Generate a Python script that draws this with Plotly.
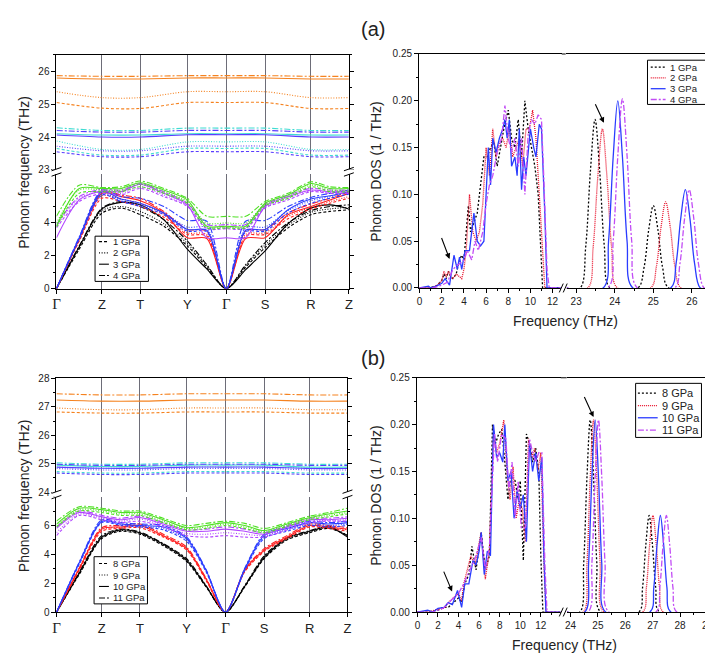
import plotly.graph_objects as go

W, H = 713, 653
def px(x): return x / W
def py(y): return 1 - y / H

FONT = "Liberation Sans, Arial, sans-serif"
SERIF = "Liberation Serif, Times New Roman, serif"

# ---------------- k-path (dispersion) ----------------
GAMMA = '<span style="font-family:Liberation Serif, serif; font-size:15px">Γ</span>'
kpath_labels = [GAMMA, "Z", "T", "Y", GAMMA, "S", "R", "Z"]
kpath_pos = [0, 0.46, 0.847, 1.323, 1.717, 2.11, 2.573, 2.957]
k_grid = [0, 0.23, 0.46, 0.653, 0.847, 1.085, 1.323, 1.52, 1.717, 1.913, 2.11, 2.342, 2.573, 2.765, 2.957]

press_a = ["1 GPa", "2 GPa", "3 GPa", "4 GPa"]
press_b = ["8 GPa", "9 GPa", "10 GPa", "11 GPa"]

# ---- panel (a) low-frequency branches (values on k_grid), one list per pressure
a_black = [
    [0, 2.4, 4.6, 4.9, 4.5, 3.8, 2.6, 1.3, 0, 1.3, 2.5, 3.7, 4.5, 4.7, 4.8],
    [0, 2.5, 4.75, 5.0, 4.7, 3.95, 2.75, 1.4, 0, 1.4, 2.65, 3.85, 4.65, 4.85, 4.95],
    [0, 2.55, 4.85, 5.25, 5.1, 4.2, 2.4, 1.2, 0, 1.15, 2.3, 3.95, 4.9, 5.1, 4.85],
    [0, 2.6, 4.9, 5.3, 5.0, 4.2, 2.9, 1.45, 0, 1.45, 2.8, 4.0, 4.75, 5.0, 5.1],
]
a_red = [
    [0, 2.9, 5.5, 5.3, 5.0, 4.35, 3.3, 3.2, 0, 3.2, 3.3, 4.25, 4.85, 5.2, 5.5],
    [0, 2.95, 5.65, 5.45, 5.2, 4.5, 3.4, 3.3, 0, 3.3, 3.4, 4.4, 4.95, 5.3, 5.6],
    [0, 3.0, 5.8, 5.6, 5.35, 4.6, 3.1, 3.05, 0, 3.05, 3.1, 4.5, 5.0, 5.4, 5.8],
    [0, 3.05, 5.9, 5.7, 5.5, 4.7, 3.6, 3.5, 0, 3.5, 3.6, 4.6, 5.15, 5.5, 5.9],
]
a_blue = [
    [0, 3.0, 5.7, 5.3, 5.0, 4.5, 3.5, 3.45, 0, 3.45, 3.5, 4.6, 5.2, 5.5, 5.75],
    [0, 3.05, 5.8, 5.35, 5.1, 4.6, 3.75, 3.7, 0, 3.7, 3.75, 4.75, 5.35, 5.6, 5.85],
    [0, 3.1, 5.9, 5.45, 5.2, 4.6, 3.6, 3.55, 0, 3.55, 3.6, 4.8, 5.45, 5.65, 5.9],
    [0, 3.15, 6.0, 5.6, 5.5, 5.0, 4.15, 4.1, 0, 4.1, 4.15, 5.0, 5.55, 5.8, 6.0],
]
a_magenta = [
    [3.7, 5.3, 5.8, 5.7, 6.1, 5.6, 5.0, 3.65, 3.65, 3.65, 4.9, 5.4, 5.9, 5.8, 5.8],
    [3.8, 5.5, 5.9, 5.8, 6.2, 5.7, 5.05, 3.75, 3.75, 3.75, 4.95, 5.5, 5.95, 5.85, 5.85],
    [3.1, 5.4, 5.95, 5.9, 6.35, 5.8, 5.1, 3.1, 3.1, 3.1, 5.0, 5.6, 6.0, 5.9, 5.9],
    [3.9, 5.6, 6.05, 6.0, 6.4, 5.9, 5.2, 3.9, 3.9, 3.9, 5.1, 5.7, 6.1, 6.0, 6.0],
]
a_green = [
    [3.75, 5.8, 5.9, 5.9, 6.2, 5.8, 5.2, 3.7, 3.7, 3.7, 5.05, 5.5, 6.2, 5.9, 5.9],
    [4.0, 6.0, 6.0, 6.0, 6.35, 5.9, 5.3, 4.0, 4.0, 4.0, 5.15, 5.6, 6.3, 6.0, 6.0],
    [3.8, 6.1, 6.1, 6.1, 6.45, 6.0, 5.4, 3.8, 3.8, 3.8, 5.2, 5.7, 6.4, 6.1, 6.1],
    [4.4, 6.3, 6.15, 6.2, 6.55, 6.1, 5.5, 4.4, 4.4, 4.4, 5.3, 5.8, 6.5, 6.2, 6.15],
]
# ---- panel (a) high-frequency branches (values at the 8 high-symmetry points)
a_cyan = [
    [23.65, 23.45, 23.45, 23.65, 23.65, 23.65, 23.45, 23.45],
    [23.88, 23.62, 23.62, 23.85, 23.85, 23.85, 23.62, 23.62],
    [24.1, 24.06, 24.06, 24.1, 24.1, 24.1, 24.06, 24.06],
    [24.28, 24.2, 24.2, 24.27, 24.27, 24.27, 24.2, 24.2],
]
a_violet = [
    [23.55, 23.4, 23.4, 23.55, 23.55, 23.55, 23.4, 23.4],
    [23.72, 23.58, 23.58, 23.72, 23.72, 23.72, 23.58, 23.58],
    [24.06, 24.0, 24.0, 24.07, 24.07, 24.07, 24.0, 24.0],
    [24.2, 24.15, 24.15, 24.2, 24.2, 24.2, 24.15, 24.15],
]
a_orange = [
    [25.05, 24.88, 24.87, 25.05, 25.05, 25.05, 24.87, 24.87],
    [25.38, 25.2, 25.2, 25.38, 25.38, 25.38, 25.2, 25.2],
    [25.8, 25.77, 25.77, 25.8, 25.8, 25.8, 25.77, 25.77],
    [25.87, 25.85, 25.85, 25.87, 25.87, 25.87, 25.85, 25.85],
]

# ---- panel (b) low-frequency branches
b_black = [
    [0, 2.6, 5.1, 5.6, 5.4, 4.6, 3.5, 1.75, 0, 1.75, 3.7, 5.0, 5.5, 5.8, 5.3],
    [0, 2.65, 5.15, 5.65, 5.45, 4.65, 3.55, 1.8, 0, 1.8, 3.75, 5.05, 5.55, 5.85, 5.3],
    [0, 2.7, 5.2, 5.7, 5.5, 4.7, 3.6, 1.8, 0, 1.8, 3.8, 5.1, 5.6, 5.9, 5.2],
    [0, 2.75, 5.3, 5.75, 5.55, 4.75, 3.7, 1.85, 0, 1.85, 3.9, 5.15, 5.65, 5.95, 5.3],
]
b_red = [
    [0, 2.9, 5.6, 5.8, 5.85, 5.2, 4.3, 2.2, 0, 2.8, 4.2, 5.1, 5.9, 5.8, 5.6],
    [0, 2.95, 5.7, 5.85, 5.95, 5.25, 4.35, 2.25, 0, 2.85, 4.25, 5.15, 5.95, 5.85, 5.7],
    [0, 3.0, 5.75, 5.9, 6.0, 5.3, 4.4, 2.3, 0, 2.9, 4.3, 5.2, 6.0, 5.9, 5.75],
    [0, 3.05, 5.85, 6.0, 6.1, 5.4, 4.5, 2.35, 0, 2.95, 4.4, 5.3, 6.1, 6.0, 5.85],
]
b_blue = [
    [0, 3.3, 6.2, 6.0, 5.9, 5.7, 4.9, 2.8, 0, 2.9, 5.1, 5.6, 6.0, 5.9, 6.0],
    [0, 3.35, 6.25, 6.05, 5.95, 5.8, 5.0, 2.85, 0, 2.95, 5.2, 5.7, 6.1, 6.0, 6.1],
    [0, 3.4, 6.3, 6.1, 6.0, 5.9, 5.1, 2.9, 0, 3.0, 5.3, 5.8, 6.2, 6.1, 6.2],
    [0, 3.45, 6.4, 6.2, 6.1, 6.0, 5.2, 2.95, 0, 3.05, 5.4, 5.9, 6.3, 6.2, 6.3],
]
b_magenta = [
    [5.3, 6.7, 6.4, 6.2, 6.3, 5.9, 5.3, 5.2, 5.3, 5.2, 5.2, 5.7, 6.2, 6.3, 6.3],
    [5.5, 6.8, 6.5, 6.3, 6.45, 6.0, 5.45, 5.4, 5.5, 5.4, 5.3, 5.8, 6.3, 6.35, 6.4],
    [5.8, 6.9, 6.6, 6.4, 6.55, 6.1, 5.6, 5.6, 5.75, 5.6, 5.4, 5.9, 6.4, 6.4, 6.5],
    [5.9, 7.0, 6.7, 6.5, 6.65, 6.2, 5.7, 5.75, 5.9, 5.75, 5.5, 6.0, 6.5, 6.5, 6.6],
]
b_green = [
    [5.9, 7.0, 6.9, 6.7, 6.7, 6.2, 5.7, 5.8, 6.0, 5.8, 5.5, 5.95, 6.4, 6.6, 6.8],
    [6.0, 7.1, 7.0, 6.8, 6.8, 6.3, 5.8, 5.9, 6.1, 5.9, 5.6, 6.05, 6.5, 6.7, 6.9],
    [6.1, 7.2, 7.1, 6.9, 6.9, 6.4, 5.85, 6.0, 6.2, 6.0, 5.65, 6.1, 6.55, 6.8, 7.0],
    [6.3, 7.3, 7.2, 7.0, 7.0, 6.5, 6.0, 6.15, 6.3, 6.15, 5.8, 6.2, 6.65, 6.9, 7.2],
]
b_cyan = [
    [24.72, 24.67, 24.67, 24.72, 24.72, 24.72, 24.67, 24.67],
    [24.88, 24.84, 24.84, 24.88, 24.88, 24.88, 24.84, 24.84],
    [24.95, 24.9, 24.9, 24.95, 24.95, 24.95, 24.88, 24.88],
    [25.03, 24.98, 24.98, 25.03, 25.03, 25.03, 24.98, 24.98],
]
b_violet = [
    [24.67, 24.62, 24.62, 24.67, 24.67, 24.67, 24.62, 24.62],
    [24.83, 24.78, 24.78, 24.83, 24.83, 24.83, 24.78, 24.78],
    [24.88, 24.84, 24.84, 24.88, 24.88, 24.88, 24.83, 24.83],
    [24.98, 24.94, 24.94, 24.98, 24.98, 24.98, 24.94, 24.94],
]
b_orange = [
    [26.82, 26.78, 26.78, 26.82, 26.82, 26.82, 26.78, 26.78],
    [26.96, 26.9, 26.9, 26.96, 26.96, 26.96, 26.9, 26.9],
    [27.24, 27.2, 27.2, 27.24, 27.24, 27.24, 27.2, 27.2],
    [27.46, 27.42, 27.42, 27.46, 27.46, 27.46, 27.42, 27.42],
]

# ---------------- phonon DOS (frequency THz, DOS 1/THz) ----------------
dos_a_low = [
    [(0, 0), (0.8, 0), (1.5, 0.002), (2.0, 0.008), (2.2, 0.015), (2.4, 0.01), (2.6, 0.018), (2.8, 0.012),
     (3.0, 0.01), (3.3, 0.015), (3.6, 0.03), (3.8, 0.035), (4.0, 0.03), (4.2, 0.06), (4.4, 0.088), (4.6, 0.06),
     (4.9, 0.07), (5.2, 0.08), (5.4, 0.10), (5.6, 0.12), (5.8, 0.14), (6.1, 0.14), (6.4, 0.15), (6.7, 0.155),
     (7.0, 0.13), (7.3, 0.15), (7.6, 0.17), (8.0, 0.19), (8.3, 0.16), (8.6, 0.15), (8.9, 0.18), (9.2, 0.14),
     (9.5, 0.20), (9.8, 0.17), (10.1, 0.15), (10.4, 0.13), (10.7, 0.10), (10.9, 0.04), (11.1, 0), (12.83, 0)],
    [(0, 0), (1.0, 0), (1.6, 0.003), (2.0, 0.008), (2.2, 0.018), (2.4, 0.012), (2.6, 0.018), (2.8, 0.012),
     (3.0, 0.01), (3.3, 0.015), (3.6, 0.012), (3.8, 0.01), (4.0, 0.02), (4.2, 0.04), (4.5, 0.10), (4.8, 0.06),
     (5.1, 0.05), (5.4, 0.06), (5.7, 0.09), (6.0, 0.15), (6.3, 0.12), (6.6, 0.17), (6.9, 0.14), (7.2, 0.155),
     (7.5, 0.16), (7.8, 0.15), (8.1, 0.17), (8.4, 0.14), (8.7, 0.15), (9.0, 0.16), (9.3, 0.13), (9.6, 0.17),
     (9.9, 0.17), (10.2, 0.19), (10.5, 0.16), (10.8, 0.10), (11.1, 0.03), (11.3, 0), (12.83, 0)],
    [(0, 0), (0.8, 0.002), (1.0, 0), (1.5, 0.002), (2.0, 0.005), (2.3, 0.01), (2.7, 0.003), (3.1, 0.035),
     (3.4, 0.02), (3.6, 0.033), (3.8, 0.02), (4.1, 0.04), (4.5, 0.04), (4.9, 0.08), (5.2, 0.05), (5.5, 0.045),
     (5.8, 0.05), (6.0, 0.10), (6.2, 0.15), (6.4, 0.11), (6.6, 0.16), (6.9, 0.145), (7.2, 0.16), (7.5, 0.17),
     (7.7, 0.18), (7.9, 0.16), (8.1, 0.18), (8.3, 0.13), (8.6, 0.14), (8.8, 0.12), (9.0, 0.17), (9.2, 0.105),
     (9.4, 0.14), (9.6, 0.12), (9.8, 0.15), (10.0, 0.17), (10.3, 0.15), (10.5, 0.14), (10.8, 0.175),
     (11.0, 0.17), (11.3, 0.08), (11.5, 0), (12.83, 0)],
    [(0, 0), (1.2, 0), (2.0, 0.003), (2.5, 0.006), (3.0, 0.02), (3.5, 0.025), (4.0, 0.03), (4.3, 0.04),
     (4.7, 0.03), (5.0, 0.05), (5.3, 0.04), (5.7, 0.06), (6.0, 0.09), (6.3, 0.11), (6.6, 0.12), (7.0, 0.145),
     (7.4, 0.16), (7.7, 0.195), (8.0, 0.16), (8.3, 0.145), (8.6, 0.16), (8.9, 0.13), (9.2, 0.16), (9.5, 0.10),
     (9.8, 0.165), (10.1, 0.18), (10.4, 0.175), (10.7, 0.185), (11.0, 0.18), (11.2, 0.12), (11.5, 0.02),
     (11.7, 0), (12.83, 0)],
]
dos_a_high = [
    [(22.73, 0), (23.1, 0), (23.25, 0.045), (23.37, 0.125), (23.49, 0.18), (23.61, 0.125), (23.73, 0.045),
     (23.88, 0), (24.6, 0), (24.76, 0.022), (24.88, 0.062), (25.0, 0.088), (25.12, 0.062), (25.24, 0.022),
     (25.4, 0), (26.53, 0)],
    [(22.73, 0), (23.3, 0), (23.44, 0.043), (23.56, 0.118), (23.68, 0.17), (23.8, 0.118), (23.92, 0.043),
     (24.07, 0), (24.93, 0), (25.08, 0.023), (25.2, 0.065), (25.32, 0.092), (25.44, 0.065), (25.56, 0.023),
     (25.72, 0), (26.53, 0)],
    [(22.73, 0), (23.7, 0), (23.84, 0.05), (23.96, 0.14), (24.08, 0.20), (24.2, 0.14), (24.32, 0.05),
     (24.47, 0), (25.45, 0), (25.59, 0.026), (25.71, 0.074), (25.83, 0.105), (25.95, 0.074), (26.07, 0.026),
     (26.22, 0), (26.53, 0)],
    [(22.73, 0), (23.82, 0), (23.96, 0.05), (24.08, 0.141), (24.2, 0.202), (24.32, 0.141), (24.44, 0.05),
     (24.59, 0), (25.55, 0), (25.69, 0.026), (25.81, 0.074), (25.93, 0.105), (26.05, 0.074), (26.17, 0.026),
     (26.32, 0), (26.53, 0)],
]
dos_b_low = [
    [(0, 0), (1.0, 0), (2.0, 0.002), (2.5, 0.005), (3.0, 0.005), (3.5, 0.01), (4.0, 0.015), (4.3, 0.01),
     (4.6, 0.03), (5.0, 0.04), (5.3, 0.07), (5.7, 0.045), (6.2, 0.085), (6.6, 0.045), (7.0, 0.06), (7.3, 0.20),
     (7.6, 0.18), (7.9, 0.19), (8.2, 0.195), (8.5, 0.16), (8.8, 0.12), (9.1, 0.145), (9.5, 0.14), (9.8, 0.12),
     (10.0, 0.14), (10.3, 0.055), (10.6, 0.19), (10.9, 0.18), (11.2, 0.16), (11.5, 0.175), (11.8, 0.15),
     (12.0, 0.06), (12.2, 0), (13.94, 0)],
    [(0, 0), (1.0, 0), (2.0, 0.003), (2.6, 0.004), (3.0, 0.01), (3.5, 0.015), (4.0, 0.02), (4.3, 0.012),
     (4.5, 0.03), (5.2, 0.06), (5.6, 0.05), (6.2, 0.085), (6.6, 0.035), (7.0, 0.065), (7.4, 0.19), (7.7, 0.17),
     (8.0, 0.18), (8.4, 0.205), (8.7, 0.15), (9.0, 0.12), (9.3, 0.155), (9.6, 0.10), (9.9, 0.12), (10.2, 0.11),
     (10.5, 0.075), (10.8, 0.185), (11.1, 0.165), (11.4, 0.175), (11.7, 0.15), (12.0, 0.17), (12.3, 0.05),
     (12.5, 0), (13.94, 0)],
    [(0, 0), (1.0, 0.002), (1.5, 0), (2.0, 0.004), (2.6, 0.005), (3.0, 0.01), (3.4, 0.008), (3.9, 0.023),
     (4.3, 0.005), (4.6, 0.03), (5.0, 0.03), (5.4, 0.055), (5.7, 0.05), (6.0, 0.065), (6.2, 0.085), (6.5, 0.04),
     (6.8, 0.065), (7.1, 0.06), (7.4, 0.20), (7.7, 0.165), (8.0, 0.17), (8.3, 0.16), (8.5, 0.20), (8.8, 0.14),
     (9.1, 0.15), (9.4, 0.10), (9.7, 0.13), (10.0, 0.11), (10.3, 0.125), (10.6, 0.075), (10.9, 0.18),
     (11.2, 0.15), (11.5, 0.17), (11.8, 0.14), (12.1, 0.165), (12.3, 0.06), (12.5, 0), (13.94, 0)],
    [(0, 0), (1.5, 0), (2.5, 0.004), (3.0, 0.01), (3.5, 0.015), (4.0, 0.02), (4.5, 0.03), (5.3, 0.05),
     (5.7, 0.06), (6.2, 0.08), (6.6, 0.045), (7.0, 0.07), (7.5, 0.19), (7.8, 0.16), (8.2, 0.19), (8.6, 0.185),
     (8.9, 0.13), (9.2, 0.16), (9.5, 0.10), (9.8, 0.14), (10.1, 0.09), (10.5, 0.09), (10.9, 0.185), (11.2, 0.17),
     (11.5, 0.16), (11.8, 0.17), (12.1, 0.17), (12.4, 0.05), (12.6, 0), (13.94, 0)],
]
dos_b_high = [
    [(23.86, 0), (24.34, 0), (24.48, 0.052), (24.6, 0.144), (24.72, 0.205), (24.84, 0.144), (24.96, 0.052),
     (25.1, 0), (26.49, 0), (26.63, 0.026), (26.75, 0.072), (26.87, 0.103), (26.99, 0.072), (27.11, 0.026),
     (27.25, 0), (29.24, 0)],
    [(23.86, 0), (24.46, 0), (24.6, 0.052), (24.72, 0.144), (24.84, 0.205), (24.96, 0.144), (25.08, 0.052),
     (25.22, 0), (26.63, 0), (26.77, 0.026), (26.89, 0.072), (27.01, 0.103), (27.13, 0.072), (27.25, 0.026),
     (27.39, 0), (29.24, 0)],
    [(23.86, 0), (24.52, 0), (24.66, 0.052), (24.78, 0.144), (24.9, 0.205), (25.02, 0.144), (25.14, 0.052),
     (25.28, 0), (26.9, 0), (27.04, 0.026), (27.16, 0.072), (27.28, 0.103), (27.4, 0.072), (27.52, 0.026),
     (27.66, 0), (29.24, 0)],
    [(23.86, 0), (24.64, 0), (24.78, 0.052), (24.9, 0.144), (25.02, 0.205), (25.14, 0.144), (25.26, 0.052),
     (25.4, 0), (27.12, 0), (27.26, 0.026), (27.38, 0.072), (27.5, 0.103), (27.62, 0.072), (27.74, 0.026),
     (27.88, 0), (29.24, 0)],
]

# ---------------- styles ----------------
C_BLACK, C_RED, C_BLUE, C_MAG, C_GREEN = "#000000", "#ff1f1f", "#2a3cff", "#b144ff", "#4fe024"
C_CYAN, C_VIOLET, C_ORANGE = "#3fdcd2", "#5a3dff", "#f5821f"
disp_dash = ["3px,2px", "1px,1.6px", "solid", "6px,2px,2px,2px"]
dos_colors = ["#000000", "#e8102a", "#2a3cff", "#c24cf5"]
dos_dash = ["2px,2px", "1px,1px", "solid", "6px,2px,2px,2px"]

fig = go.Figure()

def add_disp(xa, ya_lo, ya_hi, low_sets, high_sets):
    for colr, sets in low_sets:
        for i, vals in enumerate(sets):
            fig.add_trace(go.Scatter(x=k_grid, y=vals, xaxis=xa[0], yaxis=ya_lo, mode="lines",
                                     line=dict(color=colr, width=1.1, dash=disp_dash[i], shape="spline", smoothing=0.8),
                                     hoverinfo="skip", showlegend=False))
    for colr, sets in high_sets:
        for i, vals in enumerate(sets):
            fig.add_trace(go.Scatter(x=kpath_pos, y=vals, xaxis=xa[1], yaxis=ya_hi, mode="lines",
                                     line=dict(color=colr, width=1.1, dash=disp_dash[i], shape="spline", smoothing=0.9),
                                     hoverinfo="skip", showlegend=False))

add_disp(("x", "x2"), "y", "y2",
         [(C_BLACK, a_black), (C_RED, a_red), (C_BLUE, a_blue), (C_MAG, a_magenta), (C_GREEN, a_green)],
         [(C_CYAN, a_cyan), (C_VIOLET, a_violet), (C_ORANGE, a_orange)])
add_disp(("x5", "x6"), "y5", "y6",
         [(C_BLACK, b_black), (C_RED, b_red), (C_BLUE, b_blue), (C_MAG, b_magenta), (C_GREEN, b_green)],
         [(C_CYAN, b_cyan), (C_VIOLET, b_violet), (C_ORANGE, b_orange)])

def add_dos(xlo, xhi, ya, lows, highs):
    for i in range(4):
        for xa, pts, shp in ((xlo, lows[i], "linear"), (xhi, highs[i], "spline")):
            fig.add_trace(go.Scatter(x=[p[0] for p in pts], y=[p[1] for p in pts], xaxis=xa, yaxis=ya,
                                     mode="lines", hoverinfo="skip", showlegend=False,
                                     line=dict(color=dos_colors[i], width=1.3, dash=dos_dash[i], shape=shp)))

add_dos("x3", "x4", "y3", dos_a_low, dos_a_high)
add_dos("x7", "x8", "y7", dos_b_low, dos_b_high)

# ---------------- axes ----------------
tickfont = dict(family=FONT, size=10, color="#222")
common = dict(showline=True, linecolor="black", linewidth=1, zeroline=False, tickfont=tickfont,
              ticks="outside", ticklen=4, tickcolor="black")
kx = dict(common, range=[0, 2.957], tickvals=kpath_pos, showgrid=True, gridcolor="#6d6d78", gridwidth=1)
kx_lab = dict(kx, ticktext=kpath_labels, tickfont=dict(family=FONT, size=13, color="#222"))
kx_top = dict(kx, side="top", ticks="", showticklabels=False)
minor = lambda d: dict(dtick=d, ticklen=2, ticks="outside", tickcolor="black", showgrid=False)

layout = dict(
    width=W, height=H, margin=dict(l=0, r=0, t=0, b=0),
    paper_bgcolor="white", plot_bgcolor="white", showlegend=False,
    font=dict(family=FONT, color="#222"),
    # (a) dispersion
    xaxis=dict(kx_lab, domain=[px(45), px(340.7)], anchor="y"),
    yaxis=dict(common, domain=[py(280.3), py(163.4)], range=[0, 7.0], anchor="x", tickvals=[0, 2, 4, 6],
               mirror="ticks", showgrid=False, minor=minor(1)),
    xaxis2=dict(kx_top, domain=[px(45), px(340.7)], anchor="y2"),
    yaxis2=dict(common, domain=[py(159.5), py(42.7)], range=[23, 26.5], anchor="x2", tickvals=[23, 24, 25, 26],
                mirror="ticks", showgrid=False, minor=minor(0.5)),
    # (a) DOS
    xaxis3=dict(common, domain=[px(411.7), px(556)], range=[-0.05, 12.83], anchor="y3", tick0=0, dtick=2,
                mirror=True, showgrid=False, minor=minor(1)),
    xaxis4=dict(common, domain=[px(560), px(708.3)], range=[22.73, 26.53], anchor="y3", tick0=23, dtick=1,
                mirror=True, showgrid=False, minor=minor(0.5)),
    yaxis3=dict(common, domain=[py(279.7), py(41.7)], range=[0, 0.25], anchor="x3", tick0=0, dtick=0.05,
                tickformat=".2f", showgrid=False, minor=minor(0.025)),
    # (b) dispersion
    xaxis5=dict(kx_lab, domain=[px(45), px(339.3)], anchor="y5"),
    yaxis5=dict(common, domain=[py(609.5), py(491.9)], range=[0, 8.0], anchor="x5", tickvals=[0, 2, 4, 6],
                mirror="ticks", showgrid=False, minor=minor(1)),
    xaxis6=dict(kx_top, domain=[px(45), px(339.3)], anchor="y6"),
    yaxis6=dict(common, domain=[py(487.3), py(371.7)], range=[24, 28], anchor="x6", tickvals=[24, 25, 26, 27, 28],
                mirror="ticks", showgrid=False, minor=minor(0.5)),
    # (b) DOS
    xaxis7=dict(common, domain=[px(409.3), px(555)], range=[-0.07, 13.94], anchor="y7", tick0=0, dtick=2,
                mirror=True, showgrid=False, minor=minor(1)),
    xaxis8=dict(common, domain=[px(561), px(710)], range=[23.86, 29.24], anchor="y7", tick0=24, dtick=1,
                mirror=True, showgrid=False, minor=minor(0.5)),
    yaxis7=dict(common, domain=[py(609.3), py(371)], range=[0, 0.25], anchor="x7", tick0=0, dtick=0.05,
                tickformat=".2f", showgrid=False, minor=minor(0.025)),
)
fig.update_layout(**layout)

shapes, annots = [], []

def pline(x0, y0, x1, y1, color="black", width=1, dash="solid"):
    shapes.append(dict(type="line", xref="paper", yref="paper", x0=px(x0), y0=py(y0), x1=px(x1), y1=py(y1),
                       line=dict(color=color, width=width, dash=dash), layer="above"))

def prect(x0, y0, x1, y1, fill="white", line=None):
    shapes.append(dict(type="rect", xref="paper", yref="paper", x0=px(x0), y0=py(y1), x1=px(x1), y1=py(y0),
                       fillcolor=fill, line=dict(width=0) if line is None else line, layer="above"))

def vbreak(xc, yc):
    prect(xc - 5, yc - 2.5, xc + 5, yc + 2.5)
    pline(xc - 5, yc - 1, xc + 5, yc - 4.5)
    pline(xc - 5, yc + 4.5, xc + 5, yc + 1)

def hbreak(xc, yc):
    prect(xc - 3, yc - 1.5, xc + 3, yc + 1.5)
    pline(xc - 4.5, yc + 4.5, xc - 0.5, yc - 4.5)
    pline(xc - 0.5, yc + 4.5, xc + 3.5, yc - 4.5)

# frames / breaks
vbreak(45, 161.5); vbreak(340.7, 161.5)
vbreak(45, 489.6); vbreak(339.3, 489.6)
pline(708.3, 41.7, 708.3, 279.7); pline(556, 41.7, 560, 41.7)
pline(710, 371, 710, 609.3); pline(555, 371, 561, 371)
hbreak(558, 279.7); hbreak(558, 609.3)

def ptext(x, y, text, size, angle=0, anchor="center"):
    annots.append(dict(xref="paper", yref="paper", x=px(x), y=py(y), text=text, showarrow=False,
                       textangle=angle, xanchor=anchor, yanchor="middle",
                       font=dict(family=FONT, size=size, color="#222")))

ptext(365, 16, "(a)", 20)
ptext(365, 351, "(b)", 20)
ptext(12, 161.5, "Phonon frequency (THz)", 14, -90)
ptext(12, 490.6, "Phonon frequency (THz)", 14, -90)
ptext(368, 160.7, "Phonon DOS (1 / THz)", 14, -90)
ptext(368, 490.2, "Phonon DOS (1 / THz)", 14, -90)
ptext(560, 313, "Frequency (THz)", 14)
ptext(559, 643, "Frequency (THz)", 14)

def legend(box, rows, sx, tx, labels, colors, dashes, size, width=1.1):
    prect(box[0], box[1], box[2], box[3], fill="white", line=dict(color="black", width=1))
    for ry, lab, c, d in zip(rows, labels, colors, dashes):
        pline(sx[0], ry, sx[1], ry, color=c, width=width, dash=d)
        ptext(tx, ry, lab, size, anchor="left")

legend((84, 227, 138, 273), [232.5, 244, 255.5, 267], (88, 98), 100, press_a, ["black"] * 4, disp_dash, 9.5)
legend((83, 553, 137, 601), [560, 571.7, 583.3, 595], (88, 98), 100, press_b, ["black"] * 4, disp_dash, 9.5)
legend((642.7, 48, 703.3, 93), [55, 66, 77, 88], (646, 661), 663.5, press_a, dos_colors, dos_dash, 9.5, 1.3)
legend((630.7, 376.7, 697.3, 431.7), [386.7, 399.3, 411.7, 424.3], (633, 653), 655.5, press_b, dos_colors,
       dos_dash, 11, 1.3)

def arrow(xr, yr, x0, y0, x1, y1):
    annots.append(dict(xref=xr, yref=yr, axref=xr, ayref=yr, x=x1, y=y1, ax=x0, ay=y0, text="",
                       showarrow=True, arrowhead=2, arrowsize=1, arrowwidth=1.1, arrowcolor="black", standoff=0))

arrow("x3", "y3", 1.93, 0.055, 2.7, 0.031)
arrow("x4", "y3", 23.48, 0.198, 23.72, 0.1765)
arrow("x7", "y7", 2.5, 0.0447, 3.37, 0.022)
arrow("x8", "y7", 24.48, 0.231, 24.84, 0.208)

fig.update_layout(shapes=shapes, annotations=annots)
fig.write_html("out.html")
